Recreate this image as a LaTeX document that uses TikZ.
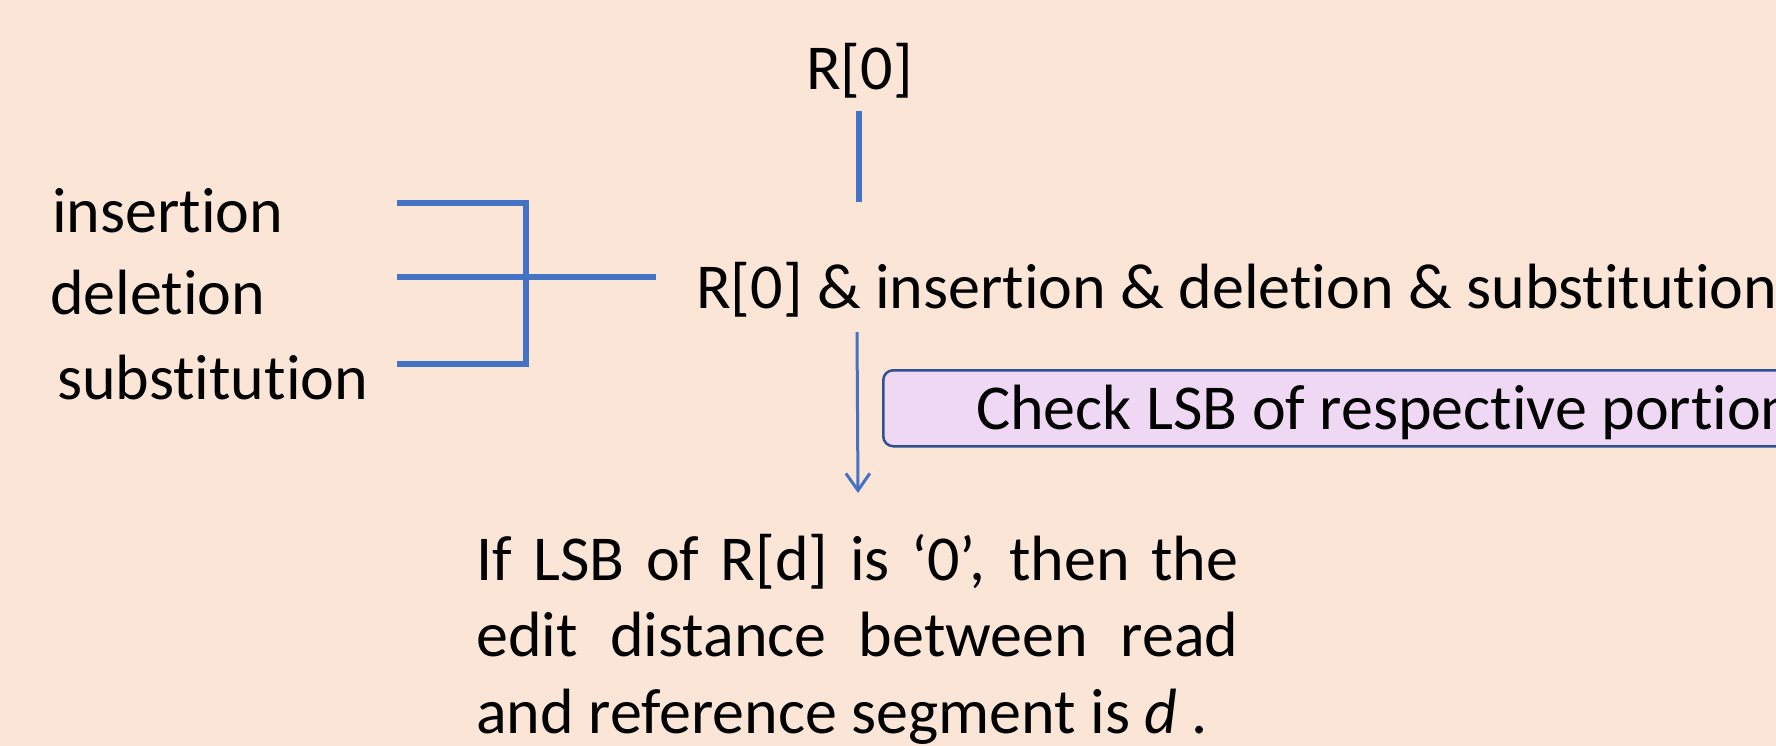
\documentclass[tikz,border=0pt]{standalone}
\usepackage{fontspec}
\setmainfont{Carlito}[Ligatures={NoCommon,NoContextual,NoRequired}]
\usetikzlibrary{arrows.meta}
\definecolor{bg}{HTML}{FBE5D6}
\definecolor{ln}{HTML}{4472C4}
\definecolor{boxfill}{HTML}{EFD8F4}
\definecolor{boxline}{HTML}{2F528F}
\begin{document}
\begin{tikzpicture}[x=1pt,y=-1pt,
  every node/.style={inner sep=0pt, font=\fontsize{64}{76.5}\selectfont},
  lbl/.style={anchor=base west},
  wire/.style={draw=ln, line width=5.5pt},
  arrowwire/.style={draw=ln, line width=3pt, -{Straight Barb[length=17pt,width=24pt,line width=3pt]}},
  chkbox/.style={draw=boxline, fill=boxfill, line width=2.5pt, rounded corners=10pt,
    anchor=north west, inner xsep=93pt, inner ysep=0pt,
    text height=59pt, text depth=17pt}]
\fill[bg] (0,0) rectangle (1776,746);
\useasboundingbox (0,0) rectangle (1776,746);

% labels
\node[lbl] (ins) at (52,232) {insertion};
\node[lbl] (del) at (50,314) {deletion};
\node[lbl] (sub) at (57,399) {substitution};
\node[lbl] (r0) at (806,90) {R[0]};
\node[lbl] (main) at (696,308) {R[0] \& insertion \& deletion \& substitution};
\node[chkbox] (chk) at (882,369) {\makebox[1000pt][l]{Check LSB of respective portion}};
\node[anchor=base west] (para) at (476,580)
  {\vtop{\hbox to 762pt{If LSB of R[d] is ‘0’, then the}
         \hbox to 762pt{edit distance between read}
         \hbox{and reference segment is \textit{d} .}}};

% connector points
\coordinate (a1) at (397,203);
\coordinate (j1) at (526,203);
\coordinate (a2) at (397,277);
\coordinate (m2) at (656,277);
\coordinate (a3) at (397,364);
\coordinate (j3) at (526,364);
\coordinate (t1) at (859,111);
\coordinate (t2) at (859,202);
\coordinate (s1) at (857,332);
\coordinate (s2) at (858,493);

\draw[wire] (a1) -- (j1) -- (j3) -- (a3);
\draw[wire] (a2) -- (m2);
\draw[wire] (t1) -- (t2);
\draw[arrowwire] (s1) -- (s2);
\end{tikzpicture}
\end{document}
